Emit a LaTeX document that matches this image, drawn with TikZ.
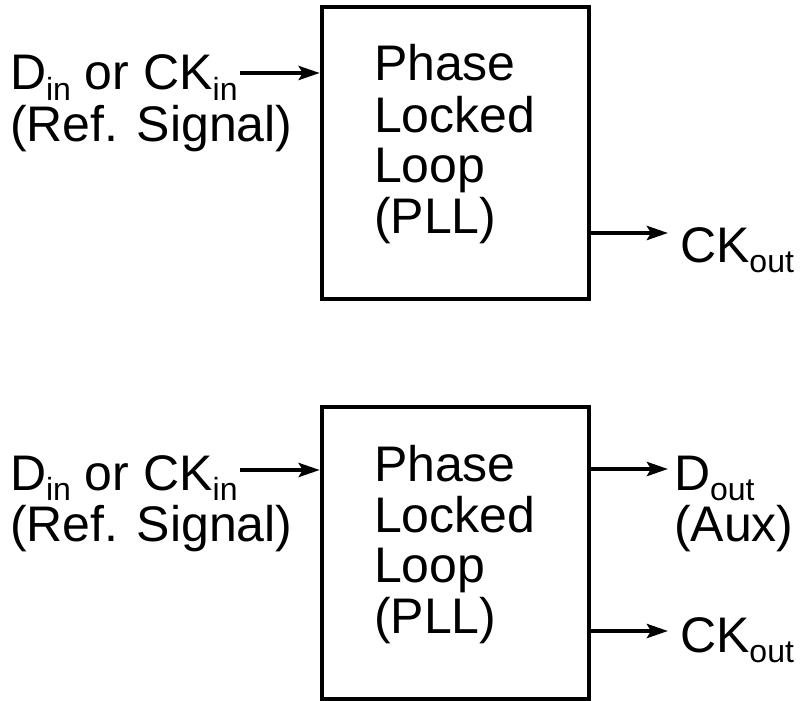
\documentclass[tikz,border=0pt]{standalone}
\usepackage{fontspec}
\setmainfont{Liberation Sans}
\usetikzlibrary{arrows.meta}
\newcommand\subtxt[1]{\raisebox{-10pt}{\fontsize{32}{32}\selectfont #1}}
\begin{document}
\begin{tikzpicture}[x=1pt,y=-1pt,
  pllbox/.style={draw,line width=4.5pt,minimum width=267pt,minimum height=292pt,inner sep=0pt},
  lbl/.style={anchor=base west,inner sep=0pt,outer sep=0pt,font=\fontsize{50}{50}\selectfont},
  sig/.style={line width=4pt,-{Stealth[length=21pt,width=14pt,inset=4pt]}}]
\useasboundingbox[fill=white] (0,0) rectangle (801,701);
% ---------- top diagram ----------
\node[pllbox] (box1) at (455.5,153) {};
\node[lbl] (txt1) at (374,81) {\begin{tabular}[t]{@{}l@{}}Phase\\Locked\\Loop\\(PLL)\end{tabular}};
\node[lbl] (in1) at (10,90) {\begin{tabular}[t]{@{}l@{}}D\subtxt{in} or CK\subtxt{in}\\(Ref. Signal)\end{tabular}};
\node[lbl] (ck1) at (680,262) {CK\subtxt{out}};
\coordinate (in1s) at (240,73);
\coordinate (ck1e) at (668,233);
\draw[sig] (in1s) -- (in1s -| box1.west);
\draw[sig] (box1.east |- ck1e) -- (ck1e);
% ---------- bottom diagram ----------
\node[pllbox] (box2) at (455.5,553) {};
\node[lbl] (txt2) at (374,481) {\begin{tabular}[t]{@{}l@{}}Phase\\Locked\\Loop\\(PLL)\end{tabular}};
\node[lbl] (in2) at (10,490) {\begin{tabular}[t]{@{}l@{}}D\subtxt{in} or CK\subtxt{in}\\(Ref. Signal)\end{tabular}};
\node[lbl] (dout) at (674,490) {\begin{tabular}[t]{@{}l@{}}D\subtxt{out}\\(Aux)\end{tabular}};
\node[lbl] (ck2) at (680,652) {CK\subtxt{out}};
\coordinate (in2s) at (240,470);
\coordinate (doute) at (668,469);
\coordinate (ck2e) at (668,631);
\draw[sig] (in2s) -- (in2s -| box2.west);
\draw[sig] (box2.east |- doute) -- (doute);
\draw[sig] (box2.east |- ck2e) -- (ck2e);
\end{tikzpicture}
\end{document}
